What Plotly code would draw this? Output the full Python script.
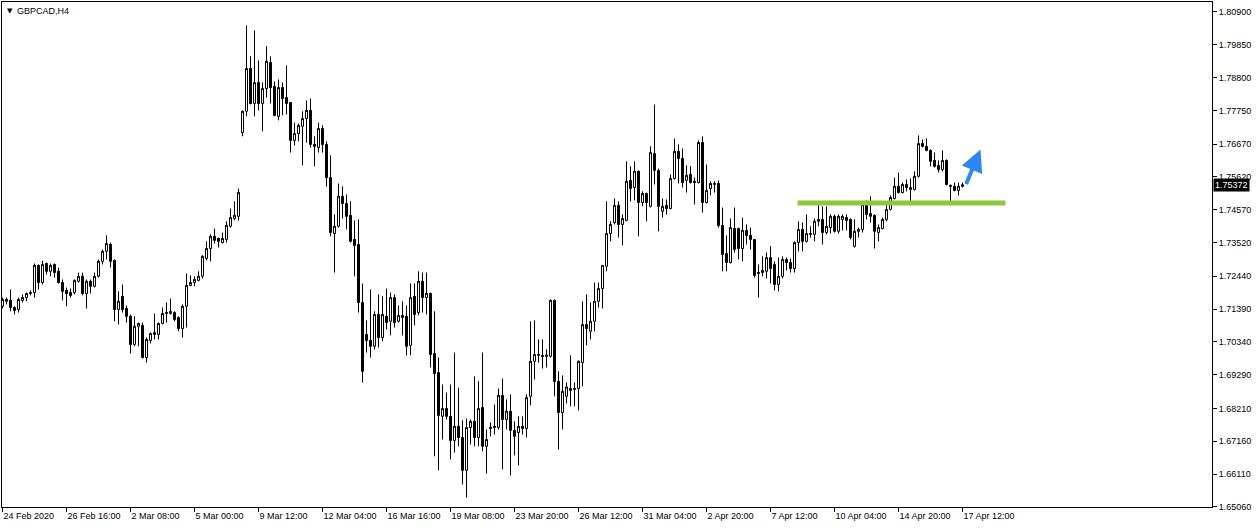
import plotly.graph_objects as go

SYMBOL = "GBPCAD,H4"

OPEN = [
1.7148,1.7164,1.7167,1.7144,1.7138,1.7167,1.7176,1.7189,1.7192,1.7279,
1.7224,1.7285,1.7260,1.7282,1.7260,1.7224,1.7199,1.7192,1.7192,1.7228,
1.7244,1.7189,1.7228,1.7212,1.7244,1.7292,1.7324,1.7346,1.7295,1.7138,
1.7180,1.7141,1.7116,1.7026,1.7084,1.7087,1.6984,1.7039,1.7058,1.7058,
1.7093,1.7125,1.7125,1.7128,1.7112,1.7077,1.7148,1.7215,1.7224,1.7231,
1.7244,1.7301,1.7333,1.7372,1.7365,1.7352,1.7362,1.7404,1.7429,1.7436,
1.7704,1.7772,1.7909,1.7797,1.7864,1.7797,1.7845,1.7928,1.7852,1.7756,
1.7848,1.7816,1.7800,1.7679,1.7701,1.7724,1.7749,1.7775,1.7666,1.7656,
1.7717,1.7666,1.7560,1.7381,1.7404,1.7500,1.7477,1.7439,1.7362,1.7346,
1.7160,1.7058,1.7039,1.7020,1.7122,1.7048,1.7116,1.7100,1.7176,1.7100,
1.7119,1.7116,1.7023,1.7180,1.7128,1.7228,1.7176,1.7189,1.6997,1.6936,
1.6796,1.6821,1.6796,1.6719,1.6764,1.6728,1.6623,1.6760,1.6780,1.6728,
1.6824,1.6700,1.6757,1.6760,1.6760,1.6863,1.6786,1.6812,1.6751,1.6744,
1.6764,1.6757,1.6860,1.6972,1.6991,1.6991,1.6988,1.6988,1.7167,1.6908,
1.6808,1.6860,1.6885,1.6882,1.6885,1.6968,1.7090,1.7068,1.7100,1.7164,
1.7205,1.7276,1.7381,1.7416,1.7471,1.7410,1.7423,1.7551,1.7528,1.7580,
1.7480,1.7509,1.7468,1.7637,1.7583,1.7452,1.7471,1.7461,1.7557,1.7644,
1.7621,1.7551,1.7570,1.7548,1.7544,1.7672,1.7480,1.7525,1.7538,1.7541,
1.7407,1.7317,1.7288,1.7397,1.7397,1.7333,1.7391,1.7375,1.7362,1.7253,
1.7256,1.7260,1.7304,1.7282,1.7218,1.7244,1.7298,1.7288,1.7269,1.7352,
1.7394,1.7356,1.7378,1.7378,1.7420,1.7426,1.7384,1.7400,1.7436,1.7388,
1.7426,1.7432,1.7426,1.7340,1.7388,1.7394,1.7474,1.7445,1.7439,1.7384,
1.7397,1.7426,1.7458,1.7493,1.7532,1.7512,1.7538,1.7522,1.7522,1.7564,
1.7669,1.7660,1.7647,1.7615,1.7599,1.7586,1.7615,1.7535,1.7532,1.7519,
1.7532]

HIGH = [
1.7176,1.7176,1.7202,1.7148,1.7176,1.7186,1.7192,1.7199,1.7285,1.7282,
1.7294,1.7288,1.7285,1.7285,1.7272,1.7234,1.7208,1.7205,1.7234,1.7256,
1.7256,1.7234,1.7234,1.7256,1.7298,1.7330,1.7375,1.7352,1.7298,1.7196,
1.7218,1.7151,1.7122,1.7116,1.7096,1.7096,1.7048,1.7064,1.7125,1.7096,
1.7144,1.7160,1.7173,1.7132,1.7116,1.7154,1.7253,1.7247,1.7244,1.7260,
1.7311,1.7356,1.7378,1.7397,1.7368,1.7384,1.7420,1.7461,1.7484,1.7525,
1.7775,1.8047,1.7948,1.8031,1.7935,1.7864,1.7980,1.7948,1.7868,1.7874,
1.7864,1.7919,1.7800,1.7736,1.7733,1.7772,1.7807,1.7813,1.7692,1.7736,
1.7727,1.7676,1.7631,1.7442,1.7541,1.7532,1.7506,1.7484,1.7423,1.7426,
1.7221,1.7103,1.7202,1.7132,1.7186,1.7180,1.7205,1.7192,1.7186,1.7151,
1.7164,1.7151,1.7221,1.7221,1.7260,1.7256,1.7256,1.7192,1.7132,1.6984,
1.6898,1.6872,1.6898,1.7000,1.6888,1.6783,1.6789,1.6786,1.6924,1.6908,
1.7000,1.6754,1.6776,1.6834,1.6885,1.6917,1.6850,1.6866,1.6780,1.6796,
1.6796,1.6866,1.7100,1.7103,1.7042,1.7042,1.7010,1.7170,1.7170,1.6940,
1.6927,1.6904,1.6991,1.6904,1.6975,1.7164,1.7186,1.7160,1.7224,1.7224,
1.7279,1.7484,1.7420,1.7493,1.7484,1.7442,1.7612,1.7596,1.7612,1.7583,
1.7516,1.7512,1.7660,1.7794,1.7589,1.7493,1.7490,1.7570,1.7685,1.7666,
1.7653,1.7599,1.7596,1.7560,1.7679,1.7692,1.7602,1.7548,1.7548,1.7551,
1.7464,1.7375,1.7429,1.7464,1.7400,1.7432,1.7410,1.7400,1.7362,1.7282,
1.7308,1.7320,1.7340,1.7292,1.7304,1.7308,1.7304,1.7301,1.7356,1.7420,
1.7416,1.7442,1.7404,1.7429,1.7480,1.7468,1.7468,1.7442,1.7442,1.7442,
1.7442,1.7442,1.7429,1.7426,1.7400,1.7477,1.7487,1.7500,1.7442,1.7410,
1.7432,1.7474,1.7503,1.7560,1.7576,1.7544,1.7554,1.7557,1.7580,1.7695,
1.7682,1.7685,1.7650,1.7640,1.7615,1.7647,1.7618,1.7538,1.7544,1.7544,
1.7544]

LOW = [
1.7141,1.7154,1.7132,1.7122,1.7128,1.7160,1.7164,1.7183,1.7176,1.7202,
1.7218,1.7250,1.7244,1.7240,1.7221,1.7167,1.7148,1.7176,1.7186,1.7224,
1.7183,1.7141,1.7189,1.7208,1.7240,1.7282,1.7298,1.7272,1.7100,1.7090,
1.7128,1.7096,1.6997,1.7020,1.7020,1.6981,1.6968,1.7029,1.7042,1.7042,
1.7090,1.7096,1.7122,1.7100,1.7068,1.7048,1.7080,1.7212,1.7212,1.7228,
1.7237,1.7295,1.7292,1.7349,1.7336,1.7349,1.7352,1.7400,1.7423,1.7423,
1.7692,1.7756,1.7794,1.7756,1.7775,1.7708,1.7816,1.7797,1.7756,1.7743,
1.7759,1.7762,1.7640,1.7663,1.7676,1.7599,1.7672,1.7656,1.7596,1.7640,
1.7640,1.7531,1.7372,1.7256,1.7400,1.7429,1.7394,1.7352,1.7244,1.7128,
1.6904,1.7000,1.6984,1.7010,1.7016,1.7036,1.7074,1.7055,1.7080,1.7096,
1.7055,1.6991,1.6991,1.7087,1.7119,1.7128,1.7122,1.6952,1.6668,1.6623,
1.6722,1.6786,1.6658,1.6680,1.6700,1.6578,1.6536,1.6706,1.6700,1.6700,
1.6684,1.6613,1.6732,1.6738,1.6754,1.6626,1.6754,1.6607,1.6671,1.6639,
1.6738,1.6728,1.6831,1.6914,1.6968,1.6949,1.6952,1.6984,1.6860,1.6690,
1.6754,1.6837,1.6828,1.6828,1.6815,1.6892,1.7023,1.7042,1.7068,1.7144,
1.7141,1.7260,1.7356,1.7410,1.7368,1.7343,1.7420,1.7484,1.7487,1.7372,
1.7468,1.7420,1.7464,1.7538,1.7388,1.7432,1.7442,1.7458,1.7554,1.7541,
1.7528,1.7512,1.7541,1.7474,1.7541,1.7448,1.7477,1.7503,1.7512,1.7400,
1.7260,1.7260,1.7285,1.7320,1.7298,1.7292,1.7346,1.7330,1.7240,1.7176,
1.7244,1.7237,1.7221,1.7199,1.7196,1.7237,1.7263,1.7256,1.7256,1.7324,
1.7324,1.7352,1.7368,1.7356,1.7404,1.7346,1.7378,1.7381,1.7384,1.7381,
1.7391,1.7391,1.7362,1.7336,1.7368,1.7384,1.7426,1.7416,1.7333,1.7356,
1.7394,1.7420,1.7455,1.7490,1.7509,1.7509,1.7516,1.7480,1.7519,1.7560,
1.7656,1.7644,1.7596,1.7592,1.7576,1.7580,1.7535,1.7480,1.7516,1.7503,
1.7528]

CLOSE = [
1.7170,1.7170,1.7144,1.7135,1.7170,1.7176,1.7189,1.7192,1.7279,1.7224,
1.7282,1.7260,1.7279,1.7256,1.7224,1.7196,1.7189,1.7183,1.7231,1.7244,
1.7189,1.7228,1.7212,1.7244,1.7292,1.7324,1.7349,1.7292,1.7138,1.7164,
1.7138,1.7116,1.7026,1.7084,1.7093,1.6984,1.7042,1.7061,1.7064,1.7093,
1.7125,1.7128,1.7132,1.7106,1.7077,1.7148,1.7215,1.7224,1.7234,1.7244,
1.7308,1.7333,1.7372,1.7359,1.7356,1.7365,1.7407,1.7432,1.7439,1.7512,
1.7772,1.7909,1.7797,1.7864,1.7797,1.7845,1.7932,1.7848,1.7759,1.7848,
1.7813,1.7797,1.7679,1.7701,1.7727,1.7749,1.7775,1.7666,1.7660,1.7717,
1.7666,1.7560,1.7384,1.7404,1.7500,1.7477,1.7436,1.7356,1.7343,1.7160,
1.6940,1.7039,1.7020,1.7122,1.7048,1.7122,1.7096,1.7176,1.7096,1.7119,
1.7112,1.7020,1.7176,1.7122,1.7228,1.7176,1.7189,1.6994,1.6933,1.6799,
1.6821,1.6796,1.6719,1.6764,1.6728,1.6623,1.6760,1.6780,1.6728,1.6821,
1.6700,1.6722,1.6760,1.6764,1.6863,1.6786,1.6812,1.6751,1.6732,1.6764,
1.6757,1.6856,1.6972,1.6994,1.6994,1.6988,1.6991,1.7167,1.6908,1.6808,
1.6876,1.6890,1.6879,1.6885,1.6972,1.7090,1.7077,1.7100,1.7164,1.7205,
1.7279,1.7381,1.7410,1.7471,1.7410,1.7429,1.7548,1.7525,1.7580,1.7480,
1.7509,1.7480,1.7640,1.7583,1.7468,1.7468,1.7461,1.7557,1.7644,1.7621,
1.7544,1.7567,1.7544,1.7544,1.7672,1.7480,1.7519,1.7541,1.7541,1.7407,
1.7314,1.7288,1.7400,1.7330,1.7333,1.7391,1.7375,1.7362,1.7247,1.7256,
1.7263,1.7304,1.7269,1.7218,1.7244,1.7298,1.7288,1.7269,1.7352,1.7394,
1.7356,1.7381,1.7381,1.7420,1.7426,1.7384,1.7404,1.7436,1.7388,1.7436,
1.7436,1.7423,1.7368,1.7388,1.7394,1.7474,1.7442,1.7436,1.7388,1.7400,
1.7426,1.7458,1.7496,1.7532,1.7512,1.7538,1.7528,1.7528,1.7564,1.7669,
1.7660,1.7647,1.7612,1.7596,1.7586,1.7615,1.7538,1.7532,1.7519,1.7532,
1.7537]

TIME_LABELS = ["24 Feb 2020", "26 Feb 16:00", "2 Mar 08:00", "5 Mar 00:00",
               "9 Mar 12:00", "12 Mar 04:00", "16 Mar 16:00", "19 Mar 08:00",
               "23 Mar 20:00", "26 Mar 12:00", "31 Mar 04:00", "2 Apr 20:00",
               "7 Apr 12:00", "10 Apr 04:00", "14 Apr 20:00", "17 Apr 12:00"]
BARS_PER_LABEL = 16

PRICE_TICKS = [1.80900, 1.79850, 1.78800, 1.77750, 1.76670, 1.75620, 1.74570,
               1.73520, 1.72440, 1.71390, 1.70340, 1.69290, 1.68210, 1.67160,
               1.66110, 1.65060]
CURRENT_PRICE = 1.75372

SUPPORT_LEVEL = 1.7479
SUPPORT_START = 199
SUPPORT_END = 251

ARROW_BAR = 244.5
ARROW_PRICE = 1.7650

x = list(range(len(OPEN)))
tick_idx = [i * BARS_PER_LABEL for i in range(len(TIME_LABELS))]

FONT = "Liberation Sans, Arial, sans-serif"

fig = go.Figure()
fig.add_trace(go.Candlestick(
    x=x, open=OPEN, high=HIGH, low=LOW, close=CLOSE,
    increasing=dict(line=dict(color="black", width=1), fillcolor="white"),
    decreasing=dict(line=dict(color="black", width=1), fillcolor="black"),
    whiskerwidth=0, hoverinfo="skip", showlegend=False,
))

fig.add_shape(type="line", xref="x", yref="y",
              x0=SUPPORT_START - 0.25, x1=SUPPORT_END - 0.25,
              y0=SUPPORT_LEVEL, y1=SUPPORT_LEVEL,
              line=dict(color="#8DC63F", width=5))

fig.add_annotation(x=ARROW_BAR, y=ARROW_PRICE, xref="x", yref="y",
                   ax=-15, ay=36, showarrow=True, arrowhead=2, arrowsize=1.1,
                   arrowwidth=4, arrowcolor="#2D86F2", text="", standoff=0)

fig.add_annotation(xref="paper", yref="paper", x=0.0, y=1.0, xanchor="left",
                   yanchor="top", xshift=3, yshift=-3, showarrow=False,
                   text="▼", font=dict(family="DejaVu Sans", size=7, color="black"))
fig.add_annotation(xref="paper", yref="paper", x=0.0, y=1.0, xanchor="left",
                   yanchor="top", xshift=13, yshift=-2, showarrow=False,
                   text=SYMBOL, font=dict(family=FONT, size=9, color="black"))

fig.add_annotation(xref="paper", yref="y", x=1.0, y=CURRENT_PRICE,
                   xanchor="left", yanchor="middle", xshift=1, showarrow=False,
                   text=f"{CURRENT_PRICE:.5f}", bgcolor="black", borderpad=1,
                   font=dict(family=FONT, size=9, color="white"))

fig.update_layout(
    width=1258, height=530,
    margin=dict(l=2, r=46, t=2, b=23, autoexpand=False),
    paper_bgcolor="white", plot_bgcolor="white",
    font=dict(family=FONT, size=9, color="black"),
    boxgap=0.3, boxgroupgap=0.2857,
    xaxis=dict(
        range=[-0.125, 302.375], rangeslider=dict(visible=False),
        showgrid=False, zeroline=False, automargin=False,
        showline=True, linecolor="black", linewidth=1, mirror=True,
        tickmode="array", tickvals=tick_idx, ticktext=TIME_LABELS,
        ticks="outside", ticklen=4, tickcolor="black",
        ticklabelposition="outside right",
        tickfont=dict(family=FONT, size=9, color="black"),
    ),
    yaxis=dict(
        range=[1.65058, 1.81218], side="right",
        showgrid=False, zeroline=False, automargin=False,
        showline=True, linecolor="black", linewidth=1, mirror=True,
        tickmode="array", tickvals=PRICE_TICKS,
        ticktext=[f"{v:.5f}" for v in PRICE_TICKS],
        ticks="outside", ticklen=4, tickcolor="black",
        tickfont=dict(family=FONT, size=9, color="black"),
    ),
)

fig.write_html("out.html", config={"displayModeBar": False},
               post_script="document.body.style.margin='0';document.body.style.overflow='hidden';")
